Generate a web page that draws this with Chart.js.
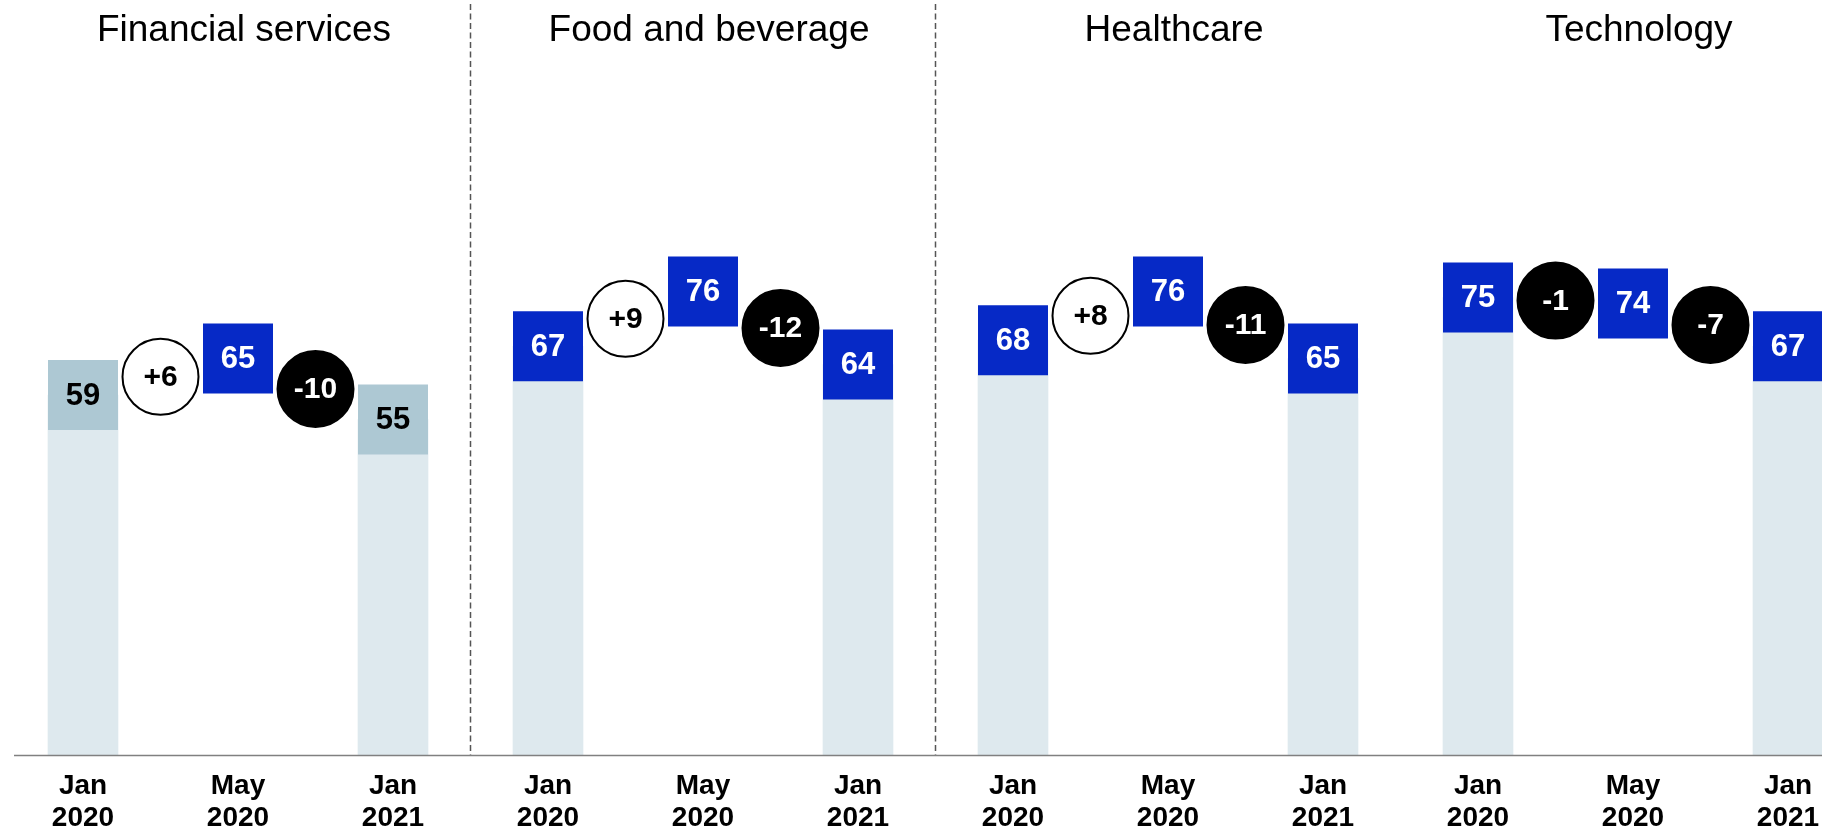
<!DOCTYPE html>
<html>
<head>
<meta charset="utf-8">
<script src="https://cdn.jsdelivr.net/npm/chart.js@4.4.1/dist/chart.umd.min.js"></script>
<style>
  html, body { margin: 0; padding: 0; background: #ffffff; overflow: hidden; }
  #wrap { width: 1822px; height: 833px; position: relative; }
</style>
</head>
<body>
<div id="wrap"><canvas id="chart" width="1822" height="833"></canvas></div>
<script>
// ---- data ----
const sectors = ['Financial services', 'Food and beverage', 'Healthcare', 'Technology'];
const periods = [['Jan', '2020'], ['May', '2020'], ['Jan', '2021']];
const financialServices = [59, 65, 55];
const foodAndBeverage = [67, 76, 64];
const healthcare = [68, 76, 65];
const technology = [75, 74, 67];
const changes = [['+6', '-10'], ['+9', '-12'], ['+8', '-11'], ['-1', '-7']];
const sectorValues = [financialServices, foodAndBeverage, healthcare, technology];
const columnPeriods = [0, 2];   // periods that also get a background column (Jan 2020, Jan 2021)

// ---- layout / style ----
const FONT = '"Liberation Sans", Arial, Helvetica, sans-serif';
const SLOTS_PER_SECTOR = 12;      // category slots taken by one sector block
const PERIOD_STEP = 4;            // slots between two periods; changes sit half way
const BLUE = '#0629c6';
const MUTED = '#adc8d3';
const PALE = '#dee9ee';
const mutedBoxes = new Set(['0-0', '0-2']);   // sector-period pairs drawn in the muted tone
const separatorsAfter = [0, 1];               // dashed divider after these sectors
const TITLE_SHIFT = 6;

const slotCount = SLOTS_PER_SECTOR * (sectors.length - 1) + PERIOD_STEP * (periods.length - 1) + 1;
const blank = () => Array(slotCount).fill(null);

const labels = Array(slotCount).fill('');
const barData = blank();
const boxData = blank();
const boxFill = Array(slotCount).fill(BLUE);
const boxInk = Array(slotCount).fill('#ffffff');
const changeData = blank();
const changeText = Array(slotCount).fill('');
const changeFill = Array(slotCount).fill('#ffffff');
const changeInk = Array(slotCount).fill('#000000');
const pathData = blank();

sectorValues.forEach((vals, s) => {
  const base = s * SLOTS_PER_SECTOR;
  vals.forEach((v, p) => {
    const i = base + p * PERIOD_STEP;
    labels[i] = periods[p];
    if (columnPeriods.includes(p)) barData[i] = v;
    boxData[i] = v;
    pathData[i] = v;
    if (mutedBoxes.has(s + '-' + p)) { boxFill[i] = MUTED; boxInk[i] = '#000000'; }
  });
  changes[s].forEach((txt, k) => {
    const i = base + k * PERIOD_STEP + PERIOD_STEP / 2;
    const y = (vals[k] + vals[k + 1]) / 2;   // bubble sits on the connector between the two periods
    changeData[i] = y;
    pathData[i] = y;
    changeText[i] = txt;
    if (txt.startsWith('-')) { changeFill[i] = '#000000'; changeInk[i] = '#ffffff'; }
  });
});

// ---- plugins ----
const decorations = {
  id: 'decorations',
  beforeDatasetsDraw(chart) {
    const { ctx, chartArea, scales: { x } } = chart;
    ctx.save();
    // dashed sector dividers
    ctx.strokeStyle = '#555555';
    ctx.lineWidth = 1.5;
    ctx.setLineDash([6, 3.5]);
    separatorsAfter.forEach(s => {
      const px = Math.round(x.getPixelForValue(s * SLOTS_PER_SECTOR + 10)) - 0.5;
      ctx.beginPath();
      ctx.moveTo(px, 4);
      ctx.lineTo(px, chartArea.bottom);
      ctx.stroke();
    });
    ctx.restore();
  },
  afterDatasetsDraw(chart) {
    const { ctx, chartArea, scales: { x } } = chart;
    ctx.save();
    // baseline
    ctx.strokeStyle = '#808080';
    ctx.lineWidth = 1.5;
    ctx.beginPath();
    ctx.moveTo(14, chartArea.bottom + 0.5);
    ctx.lineTo(chart.width, chartArea.bottom + 0.5);
    ctx.stroke();

    // value labels in boxes
    ctx.textAlign = 'center';
    ctx.textBaseline = 'middle';
    ctx.font = 'bold 31px ' + FONT;
    const boxMeta = chart.getDatasetMeta(2);
    boxMeta.data.forEach((el, i) => {
      if (boxData[i] == null) return;
      ctx.fillStyle = boxInk[i];
      ctx.fillText(String(boxData[i]), el.x, el.y + 1);
    });
    // change labels in bubbles
    ctx.font = 'bold 30px ' + FONT;
    const chMeta = chart.getDatasetMeta(3);
    chMeta.data.forEach((el, i) => {
      if (changeData[i] == null) return;
      ctx.fillStyle = changeInk[i];
      ctx.fillText(changeText[i], el.x, el.y + 1);
    });

    // sector titles
    ctx.font = '37px ' + FONT;
    ctx.fillStyle = '#000000';
    ctx.textBaseline = 'alphabetic';
    sectors.forEach((name, s) => {
      const cx = x.getPixelForValue(s * SLOTS_PER_SECTOR + PERIOD_STEP) + TITLE_SHIFT;
      ctx.fillText(name, cx, 41);
    });
    ctx.restore();
  }
};

// ---- chart ----
new Chart(document.getElementById('chart'), {
  type: 'bar',
  data: {
    labels: labels,
    datasets: [
      {
        type: 'bar',
        data: barData,
        backgroundColor: PALE,
        barThickness: 70,
        order: 4,
        clip: false
      },
      {
        type: 'line',
        data: pathData,
        borderColor: '#000000',
        borderWidth: 1.5,
        pointRadius: 0,
        spanGaps: false,
        tension: 0,
        order: 3,
        clip: false
      },
      {
        type: 'line',
        data: boxData,
        showLine: false,
        pointStyle: 'rect',
        pointRadius: 70 / Math.SQRT2,
        pointBackgroundColor: boxFill,
        pointBorderWidth: 0,
        pointBorderColor: boxFill,
        order: 2,
        clip: false
      },
      {
        type: 'line',
        data: changeData,
        showLine: false,
        pointStyle: 'circle',
        pointRadius: 38,
        pointBackgroundColor: changeFill,
        pointBorderColor: '#000000',
        pointBorderWidth: 2,
        order: 1,
        clip: false
      }
    ]
  },
  options: {
    responsive: false,
    animation: false,
    devicePixelRatio: 1,
    events: [],
    layout: { autoPadding: false, padding: { top: 145, left: 83, right: 34, bottom: 0 } },
    plugins: { legend: { display: false }, tooltip: { enabled: false } },
    scales: {
      x: {
        offset: false,
        grid: { display: false, drawTicks: true, tickLength: 15 },
        border: { display: false },
        ticks: {
          autoSkip: false,
          maxRotation: 0,
          minRotation: 0,
          padding: 0,
          color: '#000000',
          font: { family: FONT, size: 28, weight: 'bold', lineHeight: 1.15 }
        },
        afterFit(scale) {
          scale.height = 78;
          scale.paddingLeft = 0;
          scale.paddingRight = 0;
        }
      },
      y: {
        display: false,
        min: 0,
        max: 100
      }
    }
  },
  plugins: [decorations]
});
</script>
</body>
</html>
